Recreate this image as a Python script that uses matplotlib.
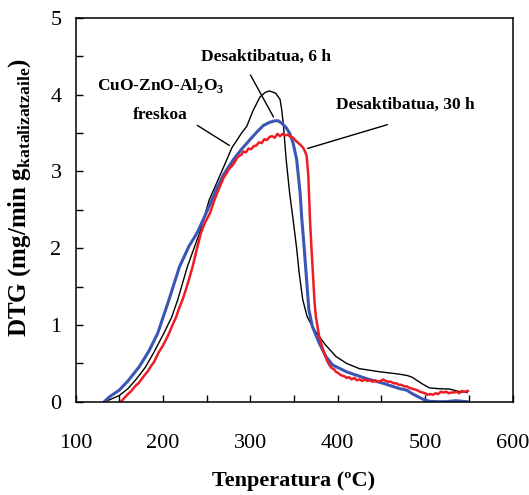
import numpy as np
import matplotlib.pyplot as plt

# Tenperatura (ºC) eta DTG balioak, katalizatzaile bakoitzeko
T_freskoa = [133, 140, 146, 150, 160, 170, 180, 190, 201, 210, 217, 228, 242, 253,
             265, 279, 290, 296, 303, 311, 317, 322, 329, 334, 336, 338, 341, 345,
             349, 353, 356, 360, 365, 370, 375, 386, 398, 410, 425, 448, 470, 480,
             485, 497, 505, 515, 528, 538, 548]
dtg_freskoa = [0, 0.03, 0.06, 0.08, 0.17, 0.3, 0.45, 0.65, 0.89, 1.1, 1.33, 1.76, 2.2, 2.63,
               2.94, 3.31, 3.5, 3.59, 3.79, 3.97, 4.03, 4.05, 4.02, 3.94, 3.8, 3.59, 3.16, 2.72,
               2.37, 2.0, 1.67, 1.33, 1.11, 1.0, 0.91, 0.74, 0.59, 0.5, 0.43, 0.39, 0.36, 0.34,
               0.32, 0.23, 0.18, 0.17, 0.165, 0.135, 0.12]

T_6h = [133, 139, 150, 160, 173, 184, 194, 207, 219, 230, 236, 240, 246, 255, 262, 270,
        281, 290, 300, 308, 315, 322, 328, 332, 337, 341, 345, 349, 353, 357, 359, 361,
        363, 365, 367, 371, 379, 386.5, 394, 410, 433, 452, 471, 479, 486, 497, 505,
        515, 524, 535, 548]
dtg_6h = [0, 0.065, 0.15, 0.27, 0.457, 0.66, 0.89, 1.33, 1.76, 2.03, 2.14, 2.22, 2.37, 2.6,
          2.79, 2.97, 3.16, 3.29, 3.42, 3.52, 3.6, 3.64, 3.66, 3.66, 3.62, 3.57, 3.5, 3.37,
          3.16, 2.72, 2.37, 2.1, 1.8, 1.5, 1.2, 0.98, 0.76, 0.59, 0.48, 0.39, 0.30, 0.24,
          0.17, 0.15, 0.10, 0.035, 0.005, 0.0, 0.0, 0.013, 0.0]

T_30h = [152, 156, 160, 164, 168, 172, 176, 180, 183, 186, 190, 195, 200, 204, 207, 211,
         215, 218, 222.5, 226, 230, 234, 238, 243.5, 248, 254, 259, 265, 270, 273, 276,
         279, 282, 285, 287, 290, 292, 295, 298, 301, 304, 307, 310, 313, 316, 319, 322,
         325, 328, 331, 334, 337, 340, 343, 346, 349, 352, 355, 358, 361, 363, 364.5,
         366.4, 368.3, 370, 372, 373.5, 375, 378.8, 381.5, 384.6, 388, 390.4, 393, 396,
         398, 401, 403, 405, 408, 410, 413, 416, 419, 422, 425, 428, 431, 434, 437, 440,
         443, 446, 449, 452, 455, 458, 461, 464, 467, 470, 473, 476, 479, 482, 485, 488,
         491, 494, 497, 500, 503, 506, 509, 512, 515, 518, 521, 524, 527, 530, 533, 536,
         539, 542, 545, 549]
dtg_30h = [0, 0.05, 0.1, 0.14, 0.2, 0.24, 0.3, 0.36, 0.4, 0.457, 0.52, 0.64, 0.73, 0.82,
           0.89, 1.0, 1.1, 1.2, 1.33, 1.45, 1.6, 1.76, 1.95, 2.2, 2.33, 2.46, 2.63, 2.8,
           2.93, 2.98, 3.04, 3.07, 3.12, 3.18, 3.2, 3.22, 3.26, 3.25, 3.3, 3.29, 3.33, 3.34,
           3.38, 3.37, 3.42, 3.41, 3.45, 3.46, 3.44, 3.49, 3.46, 3.49, 3.47, 3.48, 3.45,
           3.44, 3.4, 3.37, 3.34, 3.3, 3.25, 3.2, 2.94, 2.37, 2.0, 1.6, 1.3, 1.11, 0.85,
           0.74, 0.63, 0.53, 0.48, 0.44, 0.42, 0.39, 0.37, 0.35, 0.34, 0.33, 0.31, 0.32,
           0.29, 0.31, 0.28, 0.29, 0.27, 0.29, 0.27, 0.28, 0.26, 0.28, 0.26, 0.27, 0.29,
           0.27, 0.26, 0.26, 0.24, 0.24, 0.22, 0.22, 0.2, 0.2, 0.18, 0.17, 0.16, 0.15, 0.13,
           0.12, 0.11, 0.09, 0.10, 0.09, 0.11, 0.10, 0.13, 0.12, 0.13, 0.11, 0.12, 0.12,
           0.13, 0.11, 0.14, 0.13, 0.14]

x_ticks = [100, 200, 300, 400, 500, 600]
y_ticks = [0, 1, 2, 3, 4, 5]

plt.rcParams['font.family'] = 'Liberation Serif'
plt.rcParams['mathtext.fontset'] = 'custom'
plt.rcParams['mathtext.rm'] = 'Liberation Serif'
plt.rcParams['mathtext.bf'] = 'Liberation Serif:bold'

fig = plt.figure(figsize=(5.29, 4.95), dpi=100)
ax = fig.add_axes([75.5 / 529, 1 - 401.7 / 495, 437 / 529, 383.7 / 495])

ax.plot(T_freskoa, dtg_freskoa, color='black', lw=1.0)
ax.plot(T_6h, dtg_6h, color='#3b56b5', lw=2.2)
ax.plot(T_30h, dtg_30h, color='#ee1d25', lw=1.8)

ax.set_xlim(100, 600)
ax.set_ylim(0, 5)
ax.set_xticks(x_ticks)
ax.set_yticks(y_ticks)
ax.set_xticks(np.arange(150, 600, 100), minor=True)
ax.set_yticks(np.arange(0.5, 5, 1), minor=True)
ax.tick_params(which='both', direction='in', length=5, width=1,
               top=False, right=False, labelsize=16)
ax.tick_params(axis='x', pad=23)
ax.tick_params(axis='y', pad=10)
for s in ax.spines.values():
    s.set_linewidth(1.1)

ax.set_xlabel('Tenperatura (ºC)', fontsize=16, fontweight='bold', labelpad=13)
ax.set_ylabel(r'DTG (mg/min g$_\mathbf{katalizatzaile}$)', fontsize=18,
              fontweight='bold')
ax.yaxis.set_label_coords(-0.098, 0.533)

# etiketak eta lerro laguntzaileak
kw = dict(fontsize=12.5, fontweight='bold', ha='center', va='center')
ax.text(318, 4.49, 'Desaktibatua, 6 h', **kw)
ax.text(198, 4.12, r'CuO-ZnO-Al$_\mathbf{2}$O$_\mathbf{3}$', **kw)
ax.text(197, 3.74, 'freskoa', **kw)
ax.text(477, 3.87, 'Desaktibatua, 30 h', **kw)

lk = dict(arrowprops=dict(arrowstyle='-', color='black', lw=1))
ax.annotate('', xy=(328, 3.68), xytext=(298.6, 4.29), **lk)
ax.annotate('', xy=(278.7, 3.32), xytext=(236.7, 3.62), **lk)
ax.annotate('', xy=(362.6, 3.29), xytext=(459.8, 3.62), **lk)

fig.savefig('out.png', dpi=100)
